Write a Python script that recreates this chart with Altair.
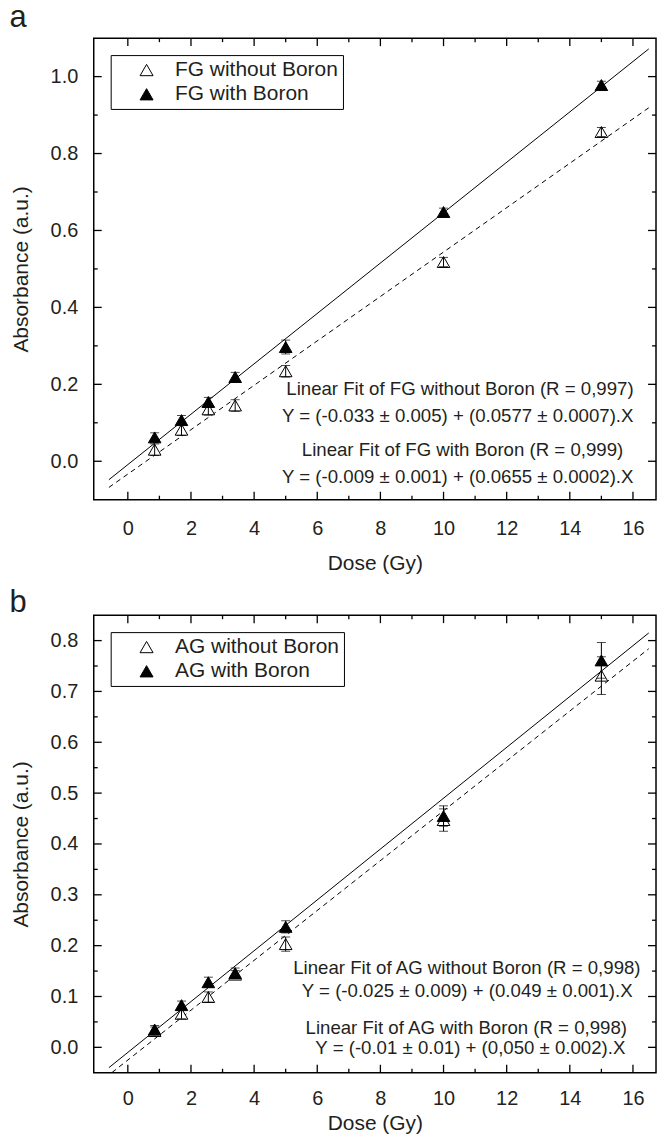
import altair as alt
import pandas as pd

FONT = "Liberation Sans"
TXT = "#231f20"

# ---------------- data ----------------
dose = [0.85, 1.7, 2.55, 3.4, 5, 10, 15]

fg_without = [0.030, 0.082, 0.135, 0.145, 0.234, 0.518, 0.856]
fg_without_err = [0.015, 0.015, 0.015, 0.015, 0.015, 0.012, 0.012]
fg_with = [0.062, 0.107, 0.154, 0.219, 0.297, 0.648, 0.978]
fg_with_err = [0.012, 0.012, 0.012, 0.012, 0.018, 0.010, 0.010]

ag_without = [0.032, 0.066, 0.099, 0.143, 0.203, 0.447, 0.731]
ag_without_err = [0.008, 0.010, 0.010, 0.008, 0.014, 0.022, 0.037]
ag_with = [0.035, 0.083, 0.128, 0.146, 0.237, 0.455, 0.761]
ag_with_err = [0.008, 0.008, 0.010, 0.010, 0.012, 0.020, 0.035]

# fitted line end points
fg_fit_without_x = [-0.6, 16.5]
fg_fit_without_y = [-0.068, 0.919]
fg_fit_with_x = [-0.6, 16.5]
fg_fit_with_y = [-0.048, 1.072]
ag_fit_without_x = [-0.5, 16.5]
ag_fit_without_y = [-0.0495, 0.784]
ag_fit_with_x = [-0.6, 16.5]
ag_fit_with_y = [-0.040, 0.815]

fg_labels = ["FG without Boron", "FG with Boron"]
ag_labels = ["AG without Boron", "AG with Boron"]

fg_ann = [
    "Linear Fit of FG without Boron (R = 0,997)",
    "Y = (-0.033 ± 0.005) + (0.0577 ± 0.0007).X",
    "Linear Fit of  FG with Boron (R = 0,999)",
    "Y = (-0.009 ± 0.001) + (0.0655 ± 0.0002).X",
]
fg_ann_x = [10.52, 10.45, 10.6, 10.45]
fg_ann_y = [0.187, 0.117, 0.029, -0.041]

ag_ann = [
    "Linear Fit of AG without Boron (R = 0,998)",
    "Y = (-0.025 ± 0.009) + (0.049 ± 0.001).X",
    "Linear Fit of AG with Boron (R = 0,998)",
    "Y = (-0.01 ± 0.01) + (0,050 ± 0.002).X",
]
ag_ann_x = [10.74, 10.75, 10.72, 10.85]
ag_ann_y = [0.156, 0.111, 0.038, -0.002]

x_major = [0, 2, 4, 6, 8, 10, 12, 14, 16]
x_minor = [1, 3, 5, 7, 9, 11, 13, 15]
a_y_major = [0.0, 0.2, 0.4, 0.6, 0.8, 1.0]
a_y_minor = [0.1, 0.3, 0.5, 0.7, 0.9]
b_y_major = [0.0, 0.1, 0.2, 0.3, 0.4, 0.5, 0.6, 0.7, 0.8]
b_y_minor = [0.05, 0.15, 0.25, 0.35, 0.45, 0.55, 0.65, 0.75]
x_domain = [-1.08, 16.73]

W = 564


def panel(letter, labels, without, without_err, with_, with_err,
          fit_wo_x, fit_wo_y, fit_w_x, fit_w_y, ann, ann_x, ann_y,
          ydom, y_major, y_minor, H, xlabpad, xtitlepad, toff):
    xs = alt.Scale(domain=x_domain, nice=False, zero=False)
    ys = alt.Scale(domain=ydom, nice=False, zero=False)

    rows = []
    for d, v, e in zip(dose, with_, with_err):
        rows.append({"dose": d, "val": v, "lo": v - e, "hi": v + e, "series": labels[1]})
    for d, v, e in zip(dose, without, without_err):
        rows.append({"dose": d, "val": v, "lo": v - e, "hi": v + e, "series": labels[0]})
    pts = pd.DataFrame(rows)

    fw = pd.DataFrame({"x": fit_w_x, "y": fit_w_y})
    fwo = pd.DataFrame({"x": fit_wo_x, "y": fit_wo_y})

    xaxis = alt.Axis(values=x_major, ticks=False, domain=False, grid=False,
                     labelFontSize=20, labelFont=FONT, labelColor=TXT, labelPadding=xlabpad,
                     title="Dose (Gy)", titleFont=FONT, titleFontSize=21,
                     titleFontWeight="normal", titleColor=TXT, titlePadding=xtitlepad)
    yaxis = alt.Axis(values=y_major, format=".1f", ticks=False, domain=False, grid=False,
                     labelFontSize=20, labelFont=FONT, labelColor=TXT, labelPadding=16,
                     title="Absorbance (a.u.)", titleFont=FONT, titleFontSize=21,
                     titleFontWeight="normal", titleColor=TXT, titlePadding=18.5)

    line_w = alt.Chart(fw).mark_line(color="black", strokeWidth=1).encode(
        x=alt.X("x:Q", scale=xs, axis=xaxis), y=alt.Y("y:Q", scale=ys, axis=yaxis))
    line_wo = alt.Chart(fwo).mark_line(color="black", strokeWidth=1, strokeDash=[5, 4]).encode(
        x=alt.X("x:Q", scale=xs), y=alt.Y("y:Q", scale=ys))

    points = alt.Chart(pts).mark_point(shape="triangle-up", filled=True, stroke="black",
                                       strokeWidth=1, size=160, opacity=1).encode(
        x=alt.X("dose:Q", scale=xs),
        y=alt.Y("val:Q", scale=ys),
        fill=alt.Fill("series:N",
                      scale=alt.Scale(domain=labels, range=["white", "black"]),
                      legend=alt.Legend(title=None, orient="none", legendX=17, legendY=17,
                                        strokeColor="black", padding=4.5,
                                        symbolType="triangle-up", symbolSize=170,
                                        symbolStrokeColor="black", symbolStrokeWidth=1,
                                        symbolOffset=21, labelOffset=18, rowPadding=2.3,
                                        labelLimit=400,
                                        labelFont=FONT, labelFontSize=21, labelColor=TXT,
                                        labelExpr="datum.label + '   '")),
        order=alt.Order("series:N", sort="descending"),
    )

    err = alt.Chart(pts).mark_rule(color="black", strokeWidth=1).encode(
        x=alt.X("dose:Q", scale=xs), y=alt.Y("lo:Q", scale=ys), y2="hi:Q")
    cap_lo = alt.Chart(pts).mark_tick(color="black", thickness=1, size=9,
                                      orient="horizontal").encode(
        x=alt.X("dose:Q", scale=xs), y=alt.Y("lo:Q", scale=ys))
    cap_hi = alt.Chart(pts).mark_tick(color="black", thickness=1, size=9,
                                      orient="horizontal").encode(
        x=alt.X("dose:Q", scale=xs), y=alt.Y("hi:Q", scale=ys))

    annd = pd.DataFrame({"t": ann, "x": ann_x, "y": ann_y})
    texts = alt.Chart(annd).mark_text(font=FONT, fontSize=18.7, color=TXT,
                                      align="center", baseline="middle").encode(
        x=alt.X("x:Q", scale=xs), y=alt.Y("y:Q", scale=ys), text="t:N")

    # inward ticks on all four sides
    xmaj = pd.DataFrame({"v": x_major})
    xmin = pd.DataFrame({"v": x_minor})
    ymaj = pd.DataFrame({"v": y_major})
    ymin = pd.DataFrame({"v": y_minor})
    tk = dict(color="black", strokeWidth=1.3)
    ticks = [
        alt.Chart(xmaj).mark_rule(**tk).encode(x=alt.X("v:Q", scale=xs), y=alt.value(H), y2=alt.value(H - 8)),
        alt.Chart(xmaj).mark_rule(**tk).encode(x=alt.X("v:Q", scale=xs), y=alt.value(0), y2=alt.value(8)),
        alt.Chart(xmin).mark_rule(**tk).encode(x=alt.X("v:Q", scale=xs), y=alt.value(H), y2=alt.value(H - 4)),
        alt.Chart(xmin).mark_rule(**tk).encode(x=alt.X("v:Q", scale=xs), y=alt.value(0), y2=alt.value(4)),
        alt.Chart(ymaj).mark_rule(**tk).encode(y=alt.Y("v:Q", scale=ys), x=alt.value(0), x2=alt.value(8)),
        alt.Chart(ymaj).mark_rule(**tk).encode(y=alt.Y("v:Q", scale=ys), x=alt.value(W), x2=alt.value(W - 8)),
        alt.Chart(ymin).mark_rule(**tk).encode(y=alt.Y("v:Q", scale=ys), x=alt.value(0), x2=alt.value(4)),
        alt.Chart(ymin).mark_rule(**tk).encode(y=alt.Y("v:Q", scale=ys), x=alt.value(W), x2=alt.value(W - 4)),
    ]

    return alt.layer(line_w, line_wo, *ticks, texts, points, err, cap_lo, cap_hi).properties(
        width=W, height=H,
        title=alt.TitleParams(letter, anchor="start", frame="group", fontSize=31,
                              fontWeight="normal", font=FONT, color=TXT, dx=-84.5, offset=toff),
    ).resolve_scale(fill="independent")


pa = panel("a", fg_labels, fg_without, fg_without_err, fg_with, fg_with_err,
           fg_fit_without_x, fg_fit_without_y, fg_fit_with_x, fg_fit_with_y,
           fg_ann, fg_ann_x, fg_ann_y, [-0.1, 1.1], a_y_major, a_y_minor, 463, 18.5, 14, 3.8)
pb = panel("b", ag_labels, ag_without, ag_without_err, ag_with, ag_with_err,
           ag_fit_without_x, ag_fit_without_y, ag_fit_with_x, ag_fit_with_y,
           ag_ann, ag_ann_x, ag_ann_y, [-0.05, 0.85], b_y_major, b_y_minor, 459, 16, 3.5, -4.8)

chart = alt.vconcat(pa, pb, spacing=11.8).resolve_scale(fill="independent").configure_view(
    stroke="black", strokeWidth=1.5
).properties(padding={"left": 0, "top": -9.5, "right": 0, "bottom": 0}, background="white")

chart.save("out.html", embed_options={"renderer": "svg", "actions": False})
